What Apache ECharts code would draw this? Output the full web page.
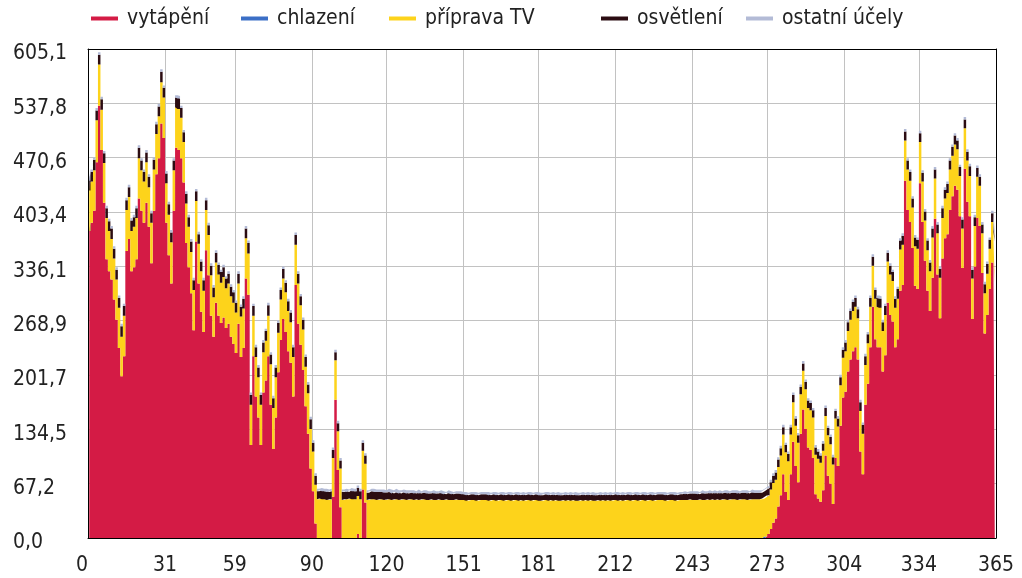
<!DOCTYPE html>
<html><head><meta charset="utf-8">
<script src="https://cdn.jsdelivr.net/npm/echarts@6/dist/echarts.min.js"></script>
<style>html,body{margin:0;padding:0;background:#fff}#c{width:1022px;height:578px}</style>
</head><body><div id="c"></div><script>
const FONT = '"DejaVu Sans Condensed","Liberation Sans",sans-serif';
const seriesNames = ['vytápění','chlazení','příprava TV','osvětlení','ostatní účely'];
const xTicks = [0,31,59,90,120,151,181,212,243,273,304,334,365];
const yTicks = [0,67.2,134.5,201.7,268.9,336.1,403.4,470.6,537.8,605.1];

const heating = [
380,390,405,465,535,480,415,345,330,320,
295,270,235,200,225,355,370,330,335,345,
420,405,390,415,385,340,405,450,470,513,
495,390,350,315,405,483,480,470,440,365,
335,303,257,367,315,280,255,356,325,275,
249,291,275,266,273,260,265,249,240,229,
265,224,235,321,301,115,225,175,149,115,
180,195,225,165,110,149,205,245,271,255,
231,217,175,313,265,239,208,163,129,86,
58,18,0,0,0,0,0,0,51,171,
84,38,0,0,0,0,0,0,5,0,
60,44,0,0,0,0,0,0,0,0,
0,0,0,0,0,0,0,0,0,0,
0,0,0,0,0,0,0,0,0,0,
0,0,0,0,0,0,0,0,0,0,
0,0,0,0,0,0,0,0,0,0,
0,0,0,0,0,0,0,0,0,0,
0,0,0,0,0,0,0,0,0,0,
0,0,0,0,0,0,0,0,0,0,
0,0,0,0,0,0,0,0,0,0,
0,0,0,0,0,0,0,0,0,0,
0,0,0,0,0,0,0,0,0,0,
0,0,0,0,0,0,0,0,0,0,
0,0,0,0,0,0,0,0,0,0,
0,0,0,0,0,0,0,0,0,0,
0,0,0,0,0,0,0,0,0,0,
0,0,0,0,0,0,0,0,0,0,
0,0,2,5,11,19,24,39,53,79,
57,47,79,119,89,69,129,159,135,112,
109,99,54,49,45,59,102,77,67,42,
99,89,139,174,181,206,221,231,236,221,
107,79,165,191,236,286,246,236,236,206,
226,291,276,268,236,246,306,313,442,406,
391,359,312,308,439,391,343,306,281,322,
395,326,272,346,371,376,406,423,436,431,
398,334,457,416,398,271,336,396,386,328,
253,276,308,341,316];

const cooling = [
0,0,0,0,0,0,0,0,0,0, 0,0,0,0,0,0,0,0,0,0, 0,0,0,0,0,0,0,0,0,0,
0,0,0,0,0,0,0,0,0,0, 0,0,0,0,0,0,0,0,0,0, 0,0,0,0,0,0,0,0,0,0,
0,0,0,0,0,0,0,0,0,0, 0,0,0,0,0,0,0,0,0,0, 0,0,0,0,0,0,0,0,0,0,
0,0,0,0,0,0,0,0,0,0, 0,0,0,0,0,0,0,0,0,0, 0,0,0,0,0,0,0,0,0,0,
0,0,0,0,0,0,0,0,0,0, 0,0,0,0,0,0,0,0,0,0, 0,0,0,0,0,0,0,0,0,0,
0,0,0,0,0,0,0,0,0,0, 0,0,0,0,0,0,0,0,0,0, 0,0,0,0,0,0,0,0,0,0,
0,0,0,0,0,0,0,0,0,0, 0,0,0,0,0,0,0,0,0,0, 0,0,0,0,0,0,0,0,0,0,
0,0,0,0,0,0,0,0,0,0, 0,0,0,0,0,0,0,0,0,0, 0,0,0,0,0,0,0,0,0,0,
0,0,0,0,0,0,0,0,0,0, 0,0,0,0,0,0,0,0,0,0, 0,0,0,0,0,0,0,0,0,0,
0,0,0,0,0,0,0,0,0,0, 0,0,0,0,0,0,0,0,0,0, 0,0,0,0,0,0,0,0,0,0,
0,0,0,0,0,0,0,0,0,0, 0,0,0,0,0,0,0,0,0,0, 0,0,0,0,0,0,0,0,0,0,
0,0,0,0,0,0,0,0,0,0, 0,0,0,0,0,0,0,0,0,0, 0,0,0,0,0,0,0,0,0,0,
0,0,0,0,0];

const hotWater = [
50,51,50,52,51,50,49,51,50,50,
51,50,50,49,50,51,52,50,50,51,
50,50,51,50,49,50,51,50,52,51,
50,49,50,51,50,50,51,50,50,49,
50,51,50,50,49,50,51,50,50,50,
49,50,51,50,50,49,50,50,51,50,
50,50,49,50,51,50,50,49,50,50,
50,49,50,50,51,50,49,50,50,49,
50,50,49,50,50,49,50,49,50,49,
49,48,48,49,48,48,47,48,48,49,
48,48,47,48,48,49,48,48,47,48,
48,48,47,48,48,48,47,48,48,47,
48,48,47,48,48,47,48,48,47,48,
48,47,48,47,48,48,47,47,48,47,
47,48,47,47,48,47,47,47,48,47,
47,47,46,47,47,47,46,47,47,47,
47,46,47,47,46,47,47,46,47,47,
46,47,47,46,47,46,47,47,46,47,
47,46,46,47,47,46,47,46,47,46,
46,47,46,47,46,47,46,46,47,46,
47,46,47,46,46,47,46,47,46,47,
46,47,47,46,47,46,47,47,46,47,
47,46,47,47,46,47,47,46,47,47,
47,47,46,47,47,47,46,47,47,47,
47,47,48,47,47,47,48,47,47,48,
47,48,47,48,47,48,48,47,48,48,
48,47,48,48,48,47,48,48,48,48,
48,49,49,48,49,49,48,49,49,49,
49,48,49,49,50,49,49,48,49,49,
49,50,49,49,48,49,49,50,49,49,
49,49,50,49,50,50,49,50,50,51,
50,50,49,50,50,51,50,50,49,50,
50,51,50,50,49,50,51,50,50,50,
51,50,49,50,51,50,50,50,49,50,
50,51,50,50,49,51,50,50,51,50,
50,49,50,51,50,50,50,51,50,49,
50,51,50,50,51];

const lighting = [
12,12,13,12,12,13,12,12,12,13,
12,12,12,13,12,12,12,13,12,12,
13,12,12,12,13,12,12,12,12,13,
12,12,13,12,12,12,13,12,12,12,
12,13,12,12,12,12,13,12,12,12,
12,12,12,13,12,12,12,12,13,12,
12,12,12,12,13,12,12,12,12,12,
12,12,13,12,12,12,12,12,12,12,
12,12,12,12,12,11,12,12,11,12,
11,11,10,10,10,10,10,10,10,10,
10,10,10,10,9,10,10,10,10,10,
10,10,9,10,10,9,10,9,9,9,
9,9,8,9,8,8,9,8,8,8,
8,8,8,8,8,8,8,8,8,8,
8,8,8,7,8,8,7,8,7,8,
7,7,7,7,7,7,7,7,7,7,
7,7,7,7,7,7,7,7,7,7,
7,7,7,7,7,7,7,7,7,7,
7,7,7,7,7,7,7,7,7,7,
7,7,7,7,7,7,7,7,7,7,
7,7,7,7,7,7,7,7,7,7,
7,7,7,7,7,7,7,7,7,7,
7,7,7,7,7,7,7,7,7,7,
7,7,7,7,7,7,7,7,7,8,
7,8,7,8,8,7,8,8,8,8,
8,8,8,8,8,8,8,8,8,8,
8,8,8,8,8,8,9,8,8,8,
8,9,9,9,9,9,9,9,9,9,
9,9,9,9,9,9,9,9,9,9,
9,9,9,9,9,9,10,9,9,9,
9,10,10,10,11,11,11,11,11,11,
11,11,11,11,11,11,11,11,11,11,
11,11,11,11,11,12,11,11,11,11,
11,11,11,11,11,11,11,12,11,11,
11,11,11,12,11,11,11,11,11,11,
11,11,11,11,12,11,11,11,11,11,
11,12,11,11,11];

const other = [
3,3,3,3,3,3,3,3,3,3, 3,3,3,3,3,3,3,3,3,3, 3,3,3,3,3,3,3,3,3,3,
3,3,3,3,3,3,3,3,3,3, 3,3,3,3,3,3,3,3,3,3, 3,3,3,3,3,3,3,3,3,3,
3,3,3,3,3,3,3,3,3,3, 3,3,3,3,3,3,3,3,3,3, 3,3,3,3,3,3,3,3,3,3,
3,3,3,3,3,3,3,3,3,3, 3,3,3,3,3,3,3,3,3,3, 3,3,3,3,3,3,3,3,3,3,
4,3,4,4,3,4,3,3,4,3, 3,3,4,3,3,3,3,3,3,3, 3,3,3,3,3,3,3,3,3,3,
3,3,3,3,3,3,3,3,3,3, 3,3,3,3,3,3,3,3,3,3, 3,3,3,3,3,3,3,3,3,3,
3,3,3,3,3,3,3,3,3,3, 3,3,3,3,3,3,3,3,3,3, 3,3,3,3,3,3,3,3,3,3,
3,3,3,3,3,3,3,3,3,3, 3,3,3,3,3,3,3,3,3,3, 3,3,3,3,3,3,3,3,3,3,
3,3,3,3,3,3,3,3,3,3, 3,3,3,3,3,3,3,3,3,3, 3,3,3,3,3,3,3,3,3,3,
3,3,3,3,3,3,3,3,3,3, 3,3,3,3,3,3,3,3,3,3, 3,3,3,3,3,3,3,3,3,3,
3,3,3,3,3,3,3,3,3,3, 3,3,3,3,3,3,3,3,3,3, 3,3,3,3,3,3,3,3,3,3,
3,3,3,3,3,3,3,3,3,3, 3,3,3,3,3,3,3,3,3,3, 3,3,3,3,3,3,3,3,3,3,
3,3,3,3,3];

const colors = ['#d41b45','#3b6fc6','#fdd31b','#2b0c12','#b3bbd6'];
const values = [heating, cooling, hotWater, lighting, other];
const days = heating.map((_, i) => String(i + 1));
const legendLefts = [86, 236, 384, 596, 741];

const labelStyle = {fontFamily: FONT, fontSize: 21, color: '#222'};
const chart = echarts.init(document.getElementById('c'), null, {renderer: 'canvas'});
chart.setOption({
  animation: false,
  color: colors,
  legend: seriesNames.map((n, k) => ({
    top: 3, left: legendLefts[k], itemWidth: 27, itemHeight: 4, icon: 'rect',
    textStyle: Object.assign({padding: [0, 0, 0, 4]}, labelStyle),
    data: [n]
  })),
  grid: {left: 88, right: 26, top: 49, bottom: 40},
  xAxis: [
    {type: 'category', data: days, boundaryGap: true, position: 'top', show: false},
    {type: 'value', min: 0, max: 365, position: 'bottom', z: 10,
     axisLine: {show: true, onZero: false, lineStyle: {color: '#000', width: 1}},
     axisTick: {show: false, customValues: xTicks},
     axisLabel: Object.assign({customValues: xTicks, margin: 17, alignMinLabel: 'right'}, labelStyle),
     splitLine: {show: false}},
    {type: 'value', min: 0, max: 365, position: 'top',
     axisLine: {show: true, onZero: false, lineStyle: {color: '#000', width: 1}},
     axisTick: {show: false, customValues: xTicks},
     axisLabel: {show: false},
     splitLine: {show: true, lineStyle: {color: '#c2c2c2', width: 1}}}
  ],
  yAxis: [
    {type: 'value', min: 0, max: 605.1, position: 'left', z: 10,
     axisLine: {show: true, onZero: false, lineStyle: {color: '#000', width: 1}},
     axisTick: {show: false, customValues: yTicks},
     axisLabel: Object.assign({customValues: yTicks, align: 'left', margin: 75,
       verticalAlign: 'top', lineHeight: 10,
       formatter: v => v.toFixed(1).replace('.', ',')}, labelStyle),
     splitLine: {show: false}},
    {type: 'value', min: 0, max: 605.1, position: 'right',
     axisLine: {show: true, onZero: false, lineStyle: {color: '#000', width: 1}},
     axisTick: {show: false, customValues: yTicks},
     axisLabel: {show: false},
     splitLine: {show: true, lineStyle: {color: '#c2c2c2', width: 1}}}
  ],
  series: seriesNames.map((n, k) => ({
    name: n, type: 'line', stack: 'total', xAxisIndex: 0, yAxisIndex: 0,
    symbol: 'none', showSymbol: false, smooth: false, step: 'middle',
    lineStyle: {width: 0, color: colors[k]},
    itemStyle: {color: colors[k]},
    areaStyle: {color: colors[k], opacity: 1},
    data: values[k]
  }))
});
</script></body></html>
